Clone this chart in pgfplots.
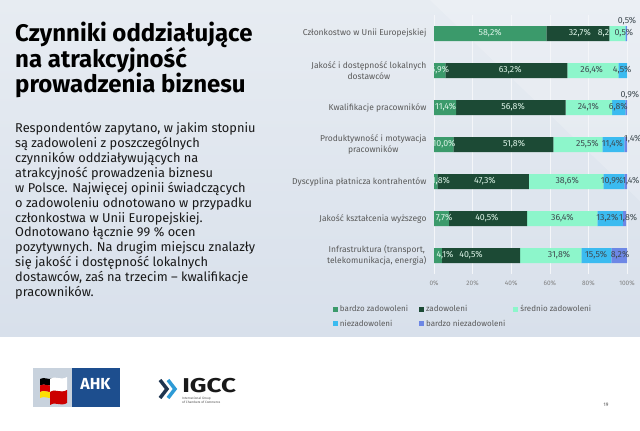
\documentclass[border=0pt]{standalone}
\usepackage{pgfplots}
\pgfplotsset{compat=1.18}
\usepackage{fontspec}
\setmainfont{Fira Sans}
\definecolor{bgA}{HTML}{E7ECF2}
\definecolor{bgB}{HTML}{D8E0EB}
\definecolor{cBZ}{HTML}{3B9A6B}
\definecolor{cZ}{HTML}{1C4A35}
\definecolor{cS}{HTML}{8DF6CB}
\definecolor{cN}{HTML}{3BBBF0}
\definecolor{cBN}{HTML}{6D87E5}
\definecolor{txt}{HTML}{595959}
\definecolor{lbl}{HTML}{3F4A50}
\definecolor{lightlbl}{HTML}{DDF4E8}
\definecolor{ahkblue}{HTML}{1D4E8E}
\definecolor{ahkgray}{HTML}{C8D2DD}
\definecolor{igccnavy}{HTML}{1F3550}
\definecolor{igccblue}{HTML}{2E9BD6}
\begin{document}
\begin{tikzpicture}[x=1pt,y=1pt]
\path[use as bounding box] (0,0) rectangle (640,431);
\fill[white] (0,0) rectangle (640,431);
\shade[top color=bgA, bottom color=bgB] (0,94) rectangle (640,431);
\fill[white, opacity=0.18] (430,431) -- (640,431) -- (640,230) -- cycle;
% title
\begin{scope}[every node/.style={inner sep=0pt, anchor=base west, font=\fontsize{24}{26}\selectfont\bfseries, text=black}]
\node at (15,389) {Czynniki oddziałujące};
\node at (15,363) {na atrakcyjność};
\node at (15,338) {prowadzenia biznesu};
\end{scope}
% paragraph
\begin{scope}[every node/.style={inner sep=0pt, anchor=base west, font=\fontsize{12.8}{15}\selectfont, text=black!90}]
\node at (15,298.3) {Respondentów zapytano, w jakim stopniu};
\node at (15,283.4) {są zadowoleni z poszczególnych};
\node at (15,268.5) {czynników oddziaływujących na};
\node at (15,253.6) {atrakcyjność prowadzenia biznesu};
\node at (15,238.7) {w Polsce. Najwięcej opinii świadczących};
\node at (15,223.8) {o zadowoleniu odnotowano w przypadku};
\node at (15,208.9) {członkostwa w Unii Europejskiej.};
\node at (15,194.0) {Odnotowano łącznie 99 \% ocen};
\node at (15,179.1) {pozytywnych. Na drugim miejscu znalazły};
\node at (15,164.2) {się jakość i dostępność lokalnych};
\node at (15,149.3) {dostawców, zaś na trzecim – kwalifikacje};
\node at (15,134.4) {pracowników.};
\end{scope}
% chart
\begin{axis}[
  at={(434pt,157pt)}, anchor=south west, scale only axis,
  width=193pt, height=259pt,
  xbar stacked, bar width=15pt,
  xmin=0, xmax=100, ymin=-0.5, ymax=6.5, y dir=reverse,
  ytick={0,...,6},
  yticklabels={Członkostwo w Unii Europejskiej,{Jakość i dostępność lokalnych\\dostawców},Kwalifikacje pracowników,{Produktywność i motywacja\\pracowników},Dyscyplina płatnicza kontrahentów,Jakość kształcenia wyższego,{Infrastruktura (transport,\\telekomunikacja, energia)}},
  xtick={0,20,...,100},
  xticklabel={\pgfmathprintnumber{\tick}\%},
  /pgf/number format/assume math mode=true,
  axis line style={draw=none}, major tick length=0pt,
  xmajorgrids, major grid style={color=white!55!bgA, line width=0.6pt},
  yticklabel style={font=\fontsize{8.5}{11.5}\selectfont, text=txt, align=center, xshift=-4pt},
  xticklabel style={font=\fontsize{6.5}{7}\selectfont, text=black!50, yshift=-3pt},
  legend image code/.code={\fill[#1] (0pt,-2.5pt) rectangle (5pt,2.5pt);},
  legend columns=3, legend cell align=left,
  legend style={draw=none, fill=none, font=\fontsize{8}{9}\selectfont, text=txt,
    at={(axis description cs:-0.54,-0.105)}, anchor=north west, row sep=2.5pt,
    /tikz/column 2/.style={column sep=9pt}, /tikz/column 4/.style={column sep=6pt}},
]
\addplot[fill=cBZ, draw=none] coordinates {(58.2,0) (5.9,1) (11.4,2) (10.0,3) (1.8,4) (7.7,5) (4.1,6)};
\addlegendentry{bardzo zadowoleni}
\addplot[fill=cZ, draw=none] coordinates {(32.7,0) (63.2,1) (56.8,2) (51.8,3) (47.3,4) (40.5,5) (40.5,6)};
\addlegendentry{zadowoleni}
\addplot[fill=cS, draw=none] coordinates {(8.2,0) (26.4,1) (24.1,2) (25.5,3) (38.6,4) (36.4,5) (31.8,6)};
\addlegendentry{średnio zadowoleni}
\addplot[fill=cN, draw=none] coordinates {(0.5,0) (4.5,1) (6.8,2) (11.4,3) (10.9,4) (13.2,5) (15.5,6)};
\addlegendentry{niezadowoleni}
\addplot[fill=cBN, draw=none] coordinates {(0.5,0) (0.0,1) (0.9,2) (1.4,3) (1.4,4) (1.8,5) (8.2,6)};
\addlegendentry{bardzo niezadowoleni}
\end{axis}
% labels
\begin{axis}[
  at={(434pt,157pt)}, anchor=south west, scale only axis,
  width=193pt, height=259pt, hide axis, clip=false,
  xmin=0, xmax=100, ymin=-0.5, ymax=6.5, y dir=reverse,
  nodes near coords, point meta=explicit symbolic,
  nodes near coords align=center,
  every node near coord/.append style={anchor=center, inner sep=0pt, font=\fontsize{8.8}{9}\selectfont},
]
\addplot[only marks, mark=*, mark size=0pt, mark options={draw=none, fill=none},
  every node near coord/.append style={text=lightlbl}] coordinates {
(29.1,0)[58,2\%] (75.6,0)[32,7\%] (87.8,0)[8,2]
(3.1,1)[5,9\%] (39.5,1)[63,2\%]
(6.0,2)[11,4\%] (41,2)[56,8\%]
(5.2,3)[10,0\%] (41.5,3)[51,8\%]
(3.6,4)[1,8\%] (26.4,4)[47,3\%]
(5.2,5)[7,7\%] (27.4,5)[40,5\%]
(5.7,6)[4,1\%] (19.2,6)[40,5\%]
};
\addplot[only marks, mark=*, mark size=0pt, mark options={draw=none, fill=none},
  every node near coord/.append style={text=lbl}] coordinates {
(98.4,0)[0,5\%] (100,-0.33)[0,5\%]
(81.7,1)[26,4\%] (97.5,1)[4,5\%]
(80,2)[24,1\%] (95.5,2)[6,8\%] (101.5,1.66)[0,9\%]
(79.5,3)[25,5\%] (92.4,3)[11,4\%] (103,2.86)[1,4\%]
(69,4)[38,6\%] (92.2,4)[10,9\%] (102,4)[1,4\%]
(66.5,5)[36,4\%] (89.8,5)[13,2\%] (100.6,5)[1,8\%]
(64.8,6)[31,8\%] (84,6)[15,5\%] (96.4,6)[8,2\%]
};
\end{axis}
% logos
\fill[ahkgray] (33,24) rectangle (72,63);
\fill[ahkblue] (72,24) rectangle (120,63);
\node[inner sep=0pt, text=white, font=\fontsize{16}{16}\selectfont\bfseries] at (95.5,47) {AHK};
\fill[black] (40,52) .. controls (45,55) and (48,50) .. (53,53) -- (53,46.5) .. controls (48,43.5) and (45,48.5) .. (40,45.5) -- cycle;
\fill[red!85!black] (40,45.5) .. controls (45,48.5) and (48,43.5) .. (53,46.5) -- (53,40) .. controls (48,37) and (45,42) .. (40,39) -- cycle;
\fill[yellow!80!orange] (40,39) .. controls (45,42) and (48,37) .. (53,40) -- (53,34) .. controls (48,31) and (45,36) .. (40,33) -- cycle;
\fill[white] (50,52) .. controls (56,56) and (60,50) .. (67,54) -- (67,41) .. controls (60,37) and (56,43) .. (50,39) -- cycle;
\fill[red!80!black] (50,39) .. controls (56,43) and (60,37) .. (67,41) -- (67,28) .. controls (60,24) and (56,30) .. (50,26) -- cycle;
\draw[igccnavy, line width=3.5pt] (160,51) -- (167,42) -- (160,33);
\draw[igccblue, line width=3.5pt] (168,51) -- (175,42) -- (168,33);
\node[inner sep=0pt, anchor=base west, font=\fontsize{20}{20}\selectfont\bfseries, xscale=1.3, text=black!90] at (182,38) {IGCC};
\node[inner sep=0pt, anchor=base west, font=\fontsize{3.2}{3.5}\selectfont, text=black!70] at (182,31.5) {International Group};
\node[inner sep=0pt, anchor=base west, font=\fontsize{3.2}{3.5}\selectfont, text=black!70] at (182,27.5) {of Chambers of Commerce};
\node[inner sep=0pt, font=\fontsize{5}{5}\selectfont, text=black!70] at (606,26) {19};
\end{tikzpicture}
\end{document}
